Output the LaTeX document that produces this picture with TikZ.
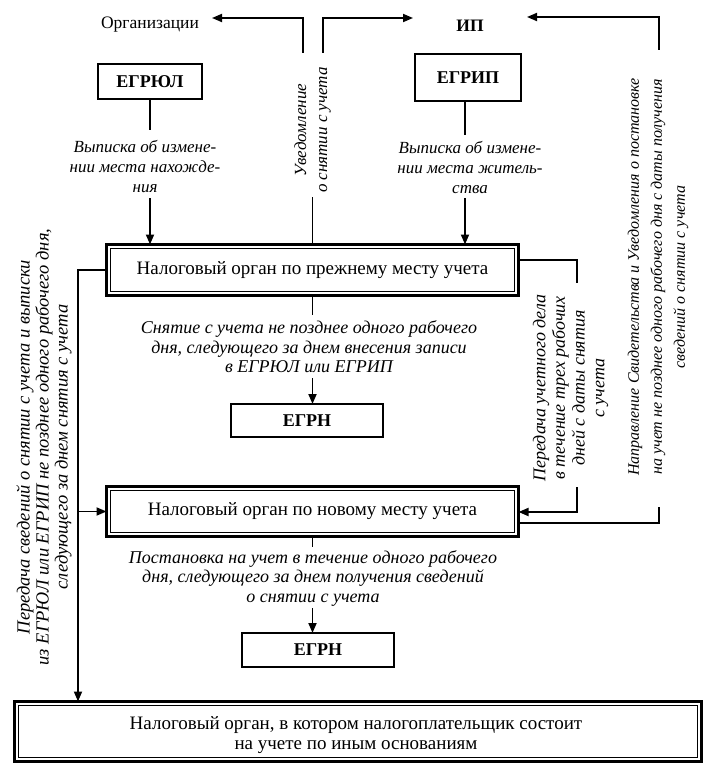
\documentclass[tikz,border=0pt]{standalone}
\usepackage{fontspec}
\setmainfont{Liberation Serif}
\usetikzlibrary{arrows.meta,calc}
\begin{document}
\begin{tikzpicture}[x=1pt,y=-1pt,
  conn/.style={line width=1.8pt},
  arr/.style={line width=1.8pt,-{Triangle[length=10pt,width=8pt]}},
  smallbox/.style={draw,line width=2pt,outer sep=0pt,inner sep=0pt,font=\fontsize{18}{20}\selectfont\bfseries},
  bigbox/.style={draw,line width=3pt,outer sep=0pt,inner sep=0pt,align=center,font=\fontsize{19}{20.5}\selectfont},
  innerline/.style={line width=1.2pt},
  itxt/.style={align=center,font=\fontsize{18}{19.5}\selectfont\itshape,inner sep=0pt},
  rtxt/.style={align=center,rotate=90,inner sep=0pt},
  lbl/.style={font=\fontsize{17.5}{19}\selectfont,inner sep=0pt}
]
\useasboundingbox (0,0) rectangle (716,781);

% top labels
\node[lbl] (org) at (150,25) {Организации};
\node[lbl,font=\fontsize{17.5}{19}\selectfont\bfseries] (ip) at (470,26) {ИП};

% small boxes
\node[smallbox,minimum width=104pt,minimum height=35pt] (egrul) at (150,81.5) {ЕГРЮЛ};
\node[smallbox,minimum width=106pt,minimum height=47pt] (egrip) at (468,77.5) {ЕГРИП};

% main boxes
\node[bigbox,minimum width=412pt,minimum height=51pt] (b1) at (312.5,270) {Налоговый орган по прежнему месту учета};
\draw[innerline] ($(b1.north west)+(4,4)$) rectangle ($(b1.south east)+(-4,-4)$);
\node[bigbox,minimum width=412pt,minimum height=50pt] (b2) at (312.5,511.5) {Налоговый орган по новому месту учета};
\draw[innerline] ($(b2.north west)+(4,4)$) rectangle ($(b2.south east)+(-4,-4)$);
\node[bigbox,minimum width=687pt,minimum height=60pt] (b3) at (358,731.5) {};
\draw[innerline] ($(b3.north west)+(4,4)$) rectangle ($(b3.south east)+(-4,-4)$);
\node[align=center,inner sep=0pt,font=\fontsize{19}{20}\selectfont] (b3t) at (356,735.5) {Налоговый орган, в котором налогоплательщик состоит\\на учете по иным основаниям};

\node[smallbox,minimum width=152pt,minimum height=33pt] (egrn1) at (307,420.5) {ЕГРН};
\node[smallbox,minimum width=152pt,minimum height=34pt] (egrn2) at (318,650) {ЕГРН};

% italic texts
\node[itxt,font=\fontsize{17}{20}\selectfont\itshape] (t1) at (145,167) {Выписка об измене-\\нии места нахожде-\\ния};
\node[itxt,font=\fontsize{17}{20}\selectfont\itshape] (t2) at (470,168) {Выписка об измене-\\нии места житель-\\ства};
\node[itxt] (t4) at (309,347) {Снятие с учета не позднее одного рабочего\\дня, следующего за днем внесения записи\\в ЕГРЮЛ или ЕГРИП};
\node[itxt] (t5) at (313,578) {Постановка на учет в течение одного рабочего\\дня, следующего за днем получения сведений\\о снятии с учета};

% rotated texts
\node[rtxt,font=\fontsize{17}{21}\selectfont\itshape] (t3) at (312.5,130) {Уведомление\\о снятии с учета};
\node[rtxt,font=\fontsize{18}{19.7}\selectfont\itshape] (t6) at (570.5,388) {Передача учетного дела\\в течение трех рабочих\\дней с даты снятия\\с учета};
\node[rtxt,font=\fontsize{16}{23}\selectfont\itshape] (t7) at (658,277) {Направление Свидетельства и Уведомления о постановке\\на учет не позднее одного рабочего дня с даты получения\\сведений о снятии с учета};
\node[rtxt,font=\fontsize{18.5}{19}\selectfont\itshape] (t8) at (44,447) {Передача сведений о снятии с учета и выписки\\из ЕГРЮЛ или ЕГРИП не позднее одного рабочего дня,\\следующего за днем снятия с учета};

% coordinates for free ends
\coordinate (ot) at (212,18);
\coordinate (it) at (413,18);
\coordinate (nl) at (303,53);
\coordinate (nr) at (323,53);
\coordinate (nb) at (312.5,197);
\coordinate (ipx) at (465,0);
\coordinate (L) at (78,270);
\coordinate (R1) at (577,260);
\coordinate (R2) at (577,283);
\coordinate (R3) at (577,487);
\coordinate (R4) at (577,512);
\coordinate (O1) at (659,523);
\coordinate (O2) at (659,507);
\coordinate (O3) at (659,50);
\coordinate (O4) at (659,17);
\coordinate (pt) at (527,17);

% ЕГРЮЛ -> b1
\draw[conn] (egrul.south) -- (egrul.south |- 0,130);
\draw[arr] (egrul.south |- 0,198) -- (egrul.south |- b1.north);
% ЕГРИП -> b1
\draw[conn] (ipx |- egrip.south) -- (ipx |- 0,135);
\draw[arr] (ipx |- 0,198) -- (ipx |- b1.north);

% notification
\draw[conn] (b1.north) -- (nb);
\draw[arr] (nl) -- (nl |- ot) -- (ot);
\draw[arr] (nr) -- (nr |- it) -- (it);

% b1 -> ЕГРН, b2 -> ЕГРН
\draw[conn] (b1.south) -- (b1.south |- 0,315);
\draw[arr] (b1.south |- 0,378) -- (egrn1.north -| b1.south);
\draw[conn] (b2.south) -- (b2.south |- 0,547);
\draw[arr] (b2.south |- 0,608) -- (egrn2.north -| b2.south);

% left
\draw[arr] (b1.west) -- (L) -- (L |- b3.north);
\draw[arr] (L |- b2.west) -- (b2.west);

% bracket
\draw[conn] (b1.east |- R1) -- (R1) -- (R2);
\draw[arr] (R3) -- (R4) -- (b2.east |- R4);

% outer right
\draw[conn] (b2.east |- O1) -- (O1) -- (O2);
\draw[arr] (O3) -- (O4) -- (pt);
\end{tikzpicture}
\end{document}
